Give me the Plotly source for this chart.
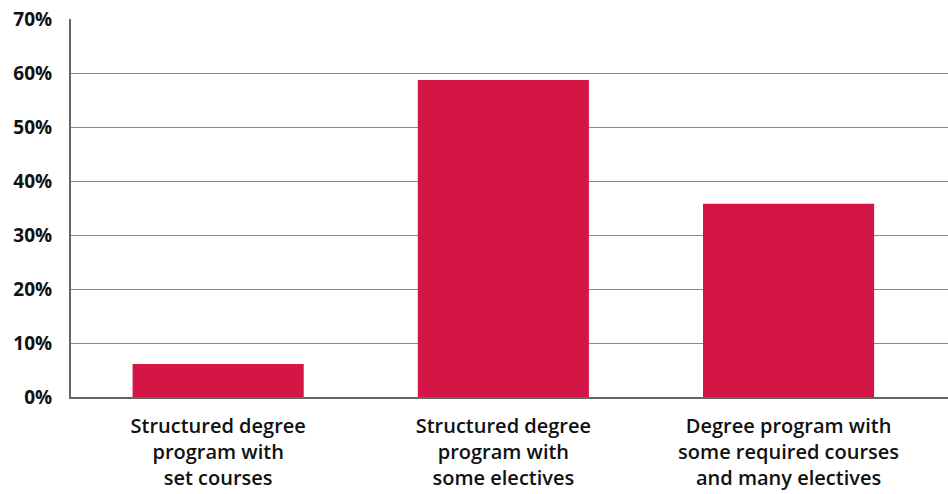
import plotly.graph_objects as go

categories = [
    "Structured degree<br>program with<br>set courses",
    "Structured degree<br>program with<br>some electives",
    "Degree program with<br>some required courses<br>and many electives",
]
values = [6.1, 58.7, 35.8]
y_ticks = [0, 10, 20, 30, 40, 50, 60, 70]
y_tick_labels = [f"{v}%" for v in y_ticks]

fig = go.Figure(
    go.Bar(
        x=categories,
        y=values,
        marker=dict(color="#D31646", line=dict(width=0)),
        width=0.6,
    )
)

fig.update_layout(
    width=948,
    height=494,
    margin=dict(l=71, r=0, t=19, b=97),
    paper_bgcolor="white",
    plot_bgcolor="white",
    showlegend=False,
    font=dict(family="Open Sans", size=18, color="#111111"),
)

fig.update_xaxes(
    range=[-0.516, 2.559],
    showgrid=False,
    showline=True,
    linecolor="#666666",
    linewidth=2,
    ticks="",
    tickfont=dict(family="Open Sans", size=20, weight=600, color="#111111"),
    ticklabelstandoff=10,
)

fig.update_yaxes(
    range=[0, 70],
    tickvals=y_ticks,
    ticktext=y_tick_labels,
    showgrid=True,
    gridcolor="#8a8a8a",
    gridwidth=1,
    showline=True,
    linecolor="#666666",
    linewidth=2,
    zeroline=False,
    ticks="",
    ticklabelstandoff=13,
    tickfont=dict(family="Open Sans", size=19, weight="bold", color="#111111"),
)

fig.write_html("out.html")
